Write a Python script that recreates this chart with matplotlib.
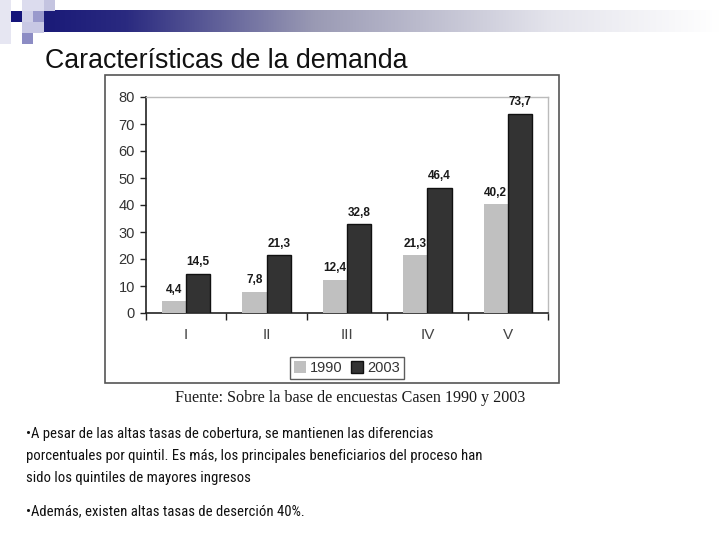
import matplotlib
matplotlib.use("Agg")
import matplotlib.pyplot as plt
import numpy as np
from matplotlib.patches import Rectangle
from matplotlib.colors import LinearSegmentedColormap
from matplotlib import font_manager
from matplotlib.font_manager import FontProperties

categories = ["I", "II", "III", "IV", "V"]
v1990 = [4.4, 7.8, 12.4, 21.3, 40.2]
v2003 = [14.5, 21.3, 32.8, 46.4, 73.7]
series_names = ["1990", "2003"]
yticks = [0, 10, 20, 30, 40, 50, 60, 70, 80]

W, H = 720, 540
fig = plt.figure(figsize=(7.2, 5.4), dpi=100)
fig.patch.set_facecolor("white")

def fx(x):
    return x / W

def fy(y):
    return 1 - y / H

# look for a narrow sans font
cands = []
for f in font_manager.fontManager.ttflist:
    fl = f.fname.lower()
    if ("narrow" in fl or "condensed" in fl) and "bold" not in fl and "italic" not in fl and "oblique" not in fl and "serif" not in fl.replace("sans", ""):
        cands.append(f)
def rank(f):
    n = f.fname.lower()
    if "liberationsansnarrow" in n.replace("-", ""):
        return 0
    if "arial" in n:
        return 1
    if "roboto" in n:
        return 2
    if "opensans" in n.replace(" ", ""):
        return 3
    return 5
cands.sort(key=rank)
if cands:
    narrow_fp = FontProperties(fname=cands[0].fname, size=10.6)
else:
    narrow_fp = FontProperties(family="Liberation Sans", size=9.6)

# header gradient bar
gax = fig.add_axes([fx(44), fy(32), fx(720 - 44), 22 / H])
cmap = LinearSegmentedColormap.from_list("hdr", [(0, "#1a1a78"), (0.12, "#2a2a80"), (0.4, "#9a9ab4"), (0.75, "#e4e4ec"), (1, "#ffffff")])
gax.imshow(np.linspace(0, 1, 256)[None, :], aspect="auto", cmap=cmap, extent=[0, 1, 0, 1])
gax.set_axis_off()

# decorative squares (x, y, w, h, color) in pixels
squares = [
    (0, 0, 11, 44, "#e6e6f2"),
    (22, 0, 22, 11, "#dcdcee"),
    (44, 0, 11, 11, "#c4c4e0"),
    (11, 11, 11, 11, "#14147a"),
    (22, 11, 11, 11, "#d0d0e8"),
    (33, 11, 11, 11, "#9a9acc"),
    (22, 22, 22, 11, "#c8c8e4"),
    (22, 33, 11, 11, "#8c8cc4"),
]
for (x, y, w, h, c) in squares:
    fig.patches.append(Rectangle((fx(x), fy(y + h)), w / W, h / H, transform=fig.transFigure,
                                 facecolor=c, edgecolor="none", zorder=5))

# title
fig.text(fx(45), fy(68), "Características de la demanda", fontsize=19.3, family="Liberation Sans",
         color="#111111", va="baseline", ha="left")

# chart outer box
fig.patches.append(Rectangle((fx(105), fy(383)), (559 - 105) / W, (383 - 75) / H, transform=fig.transFigure,
                             facecolor="none", edgecolor="#555555", linewidth=1.2, zorder=10))

ax = fig.add_axes([fx(146), fy(313), (548 - 146) / W, (313 - 97) / H])
x = np.arange(len(categories))
bw = 0.3
b1 = ax.bar(x - bw / 2, v1990, bw, color="#c0c0c0", edgecolor="none", label=series_names[0], zorder=3)
b2 = ax.bar(x + bw / 2, v2003, bw, color="#333333", edgecolor="#111111", linewidth=1.0, label=series_names[1], zorder=3)
for bars, vals in ((b1, v1990), (b2, v2003)):
    for r, v in zip(bars, vals):
        ax.annotate(f"{v:.1f}".replace(".", ","), (r.get_x() + r.get_width() / 2, v),
                    xytext=(0, 4), textcoords="offset points", ha="center", va="bottom",
                    fontsize=8.5, fontweight="bold", family="Liberation Sans", color="#1a1a1a")

ax.set_xlim(-0.5, len(categories) - 0.5)
ax.set_ylim(0, 80)
ax.set_yticks(yticks)
ax.set_yticklabels([str(t) for t in yticks], fontsize=10.5, family="Liberation Sans", color="#333333")
ax.set_xticks(x)
ax.set_xticklabels(categories, fontsize=11, family="Liberation Sans", color="#444444")
ax.set_xticks(np.arange(-0.5, len(categories)), minor=True)
ax.tick_params(axis="x", which="major", length=0, pad=11)
ax.tick_params(axis="x", which="minor", length=5, width=1, color="#222222", direction="out")
ax.tick_params(axis="y", length=4, width=1, color="#222222", direction="out", pad=4)
for s in ("top", "right"):
    ax.spines[s].set_color("#bbbbbb")
    ax.spines[s].set_linewidth(1)
for s in ("left", "bottom"):
    ax.spines[s].set_color("#222222")
    ax.spines[s].set_linewidth(1.2)

leg = fig.legend(handles=[b1, b2], labels=series_names, loc="center", bbox_to_anchor=(fx(347), fy(368)),
                 ncol=2, frameon=True, fancybox=False, edgecolor="#333333",
                 prop={"family": "Liberation Sans", "size": 10.5}, handlelength=0.8, handleheight=0.8,
                 handletextpad=0.3, columnspacing=0.6, borderpad=0.3, borderaxespad=0)
leg.get_frame().set_linewidth(1)
for t in leg.get_texts():
    t.set_color("#333333")

fig.text(fx(175), fy(402), "Fuente: Sobre la base de encuestas Casen 1990 y 2003", fontsize=11.6,
         family="Liberation Serif", color="#1a1a1a", va="baseline", ha="left")

lines = [
    (438, "•A pesar de las altas tasas de cobertura, se mantienen las diferencias"),
    (460, "porcentuales por quintil. Es más, los principales beneficiarios del proceso han"),
    (482, "sido los quintiles de mayores ingresos"),
    (515, "•Además, existen altas tasas de deserción 40%."),
]
for yy, s in lines:
    fig.text(fx(26), fy(yy), s, fontproperties=narrow_fp, color="#111111", va="baseline", ha="left")

fig.savefig("out.png", dpi=100)
